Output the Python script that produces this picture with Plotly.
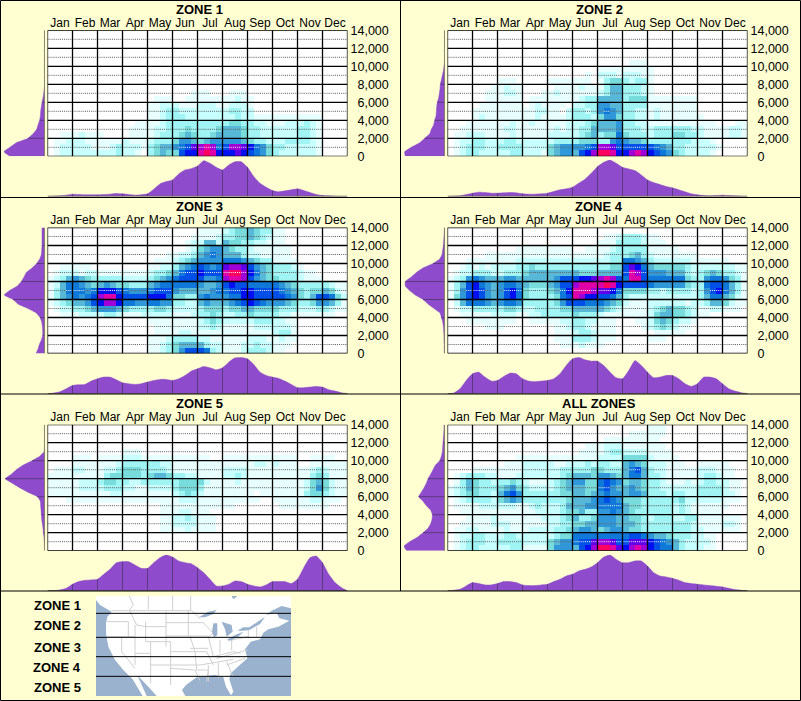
import plotly.graph_objects as go

W, H = 801, 701
BG = "#FFFFD2"
FONT = "Liberation Sans, Arial, sans-serif"
MONTHS = ["Jan","Feb","Mar","Apr","May","Jun","Jul","Aug","Sep","Oct","Nov","Dec"]
ALT_TICKS = [0,2000,4000,6000,8000,10000,12000,14000]
ALT_LABELS = ["\u20070","\u20072,000","\u20074,000","\u20076,000","\u20078,000","10,000","12,000","14,000"]
TITLES = ["ZONE 1","ZONE 2","ZONE 3","ZONE 4","ZONE 5","ALL ZONES"]
COLORS = ["#ffffff","#e8ffff","#c8ffff","#a0f4f4","#78dcdc","#58b8d8","#3098d8","#1078d8",
          "#0050e8","#0010f0","#6000e8","#a000d8","#e000a8","#ff0060"]

# heat levels, top row (14,000 ft) first, hex digit per half-fortnight cell, grouped by month
Z1 = ["","","","","","","","","","",
"0000 0000 0000 0000 0000 0001 1100 0111",
"0000 0000 0000 0000 0111 0011 1111 1121 1",
"0000 0000 0000 0000 1122 2111 2221 1222 1",
"0000 0000 0000 0000 1123 3222 2222 2332 2",
"0000 0000 0000 0000 1123 3322 2222 2232 2111 1111 1111",
"0000 0000 0000 0011 1123 3333 3333 3443 3221 1122 2321",
"0000 0000 0000 0111 1223 3343 3334 5554 3322 2222 3321",
"0011 1211 1000 0111 1233 3454 3345 5554 3322 2222 3321",
"0112 2211 1111 2111 2333 4665 4566 6665 4332 2233 3321",
"0122 2221 1123 2221 3455 678a bcb7 8bba 9764 3322 2221",
"0122 2222 2223 2210 3454 4899 cdc9 99a9 8764 3222 2221"]
Z2 = ["","","","","",
"0000 0000 0000 0000 0000 0000 0000 0111",
"0000 0000 0000 0000 0000 0000 1111 1111 1",
"0000 0000 0000 0000 0000 0010 2221 2221 1",
"0000 0000 1110 0000 1111 1110 1344 3233 1",
"0000 0001 1211 0000 0111 1211 1355 3332 1",
"0000 0011 1221 0001 1211 1111 2355 3332 1",
"0000 0011 1111 0111 1111 1233 5555 3444 1111 1111",
"0000 0111 1111 0121 1110 2233 6655 3333 1111 1111",
"0000 1111 1111 1122 1102 3323 6765 3322 1211 1111",
"0000 1211 1111 1121 1112 3332 4664 3322 1211 1111 1",
"0001 1111 1121 1211 1112 2234 5556 3322 1111 1111 1110 0011",
"0011 1111 1221 1111 1212 2335 5556 3332 2333 3332 2111 1221",
"0112 2211 1121 1111 2222 2345 3447 4333 2333 4433 2111 1221",
"0122 3322 2332 2222 2333 3444 3367 6554 3333 3332 2210",
"0123 3322 3333 2222 4566 6678 bba8 8888 8765 3322 2221",
"0123 3222 2233 2221 4566 589b ddc9 9bcb 9876 4322 2210"]
Z3 = [
"0000 0000 0000 0000 0000 0000 1111 2344 5433 1100",
"0000 0000 0000 0000 0000 0001 1112 3344 5432 1100",
"0000 0000 0000 0000 0000 0012 2552 5443 3221 1100",
"0000 0000 0000 0000 0000 0012 4566 5433 2111 1110",
"0000 0000 0000 0000 0001 1223 5676 5553 2211 1110",
"0000 0000 0000 0000 0111 2345 6666 7776 5433 1111",
"0011 1110 0000 0000 1122 3567 8767 abba 8654 3332 1",
"0122 2122 1111 1111 2334 5788 9888 cddb 9754 3333 2110",
"1235 6543 3333 2222 3456 7888 8667 bccb 8654 4333 2111",
"1257 7654 5654 4333 5677 7777 6556 8988 7777 7654 3333 3211",
"1357 7767 9998 7666 7888 6555 5567 7889 9888 8765 4344 5421",
"1356 7678 bcc9 8888 9997 4433 6766 6779 9888 8876 4358 8742",
"1234 5568 9bb9 7766 7766 3322 5655 5678 9876 6654 3346 6531",
"0122 3345 6665 4333 3443 2222 3444 3445 5444 4333 2223 3211",
"0011 1222 2332 1112 2222 1112 3343 2233 4333 3221 1111 1100",
"0000 0000 0000 0000 1111 1111 2343 2222 2333 2211",
"0000 0000 0000 0000 0111 1111 2232 1111 1222 2221",
"0000 0000 0000 0000 0111 1221 1111 1111 1111 2331",
"0000 0000 0000 0000 1112 3333 2211 1111 2221 1211",
"0000 0000 0000 0000 1123 4555 5322 1112 2322 1110",
"0000 0000 0000 0000 1123 4688 8732 1112 3332 1100"]
Z4 = ["",
"0000 0000 0000 0000 0000 0000 0112 3332 1100",
"0000 0000 0000 0000 0000 0000 1113 3332 1110",
"0000 0000 0001 1111 1111 0011 1123 3333 1111 1000",
"0000 0011 1111 1111 1111 1111 1233 3453 2111 1111",
"0001 1111 1112 2222 2222 2222 2233 7765 3222 2221 1111 1",
"0012 1212 2223 3433 3333 3333 3344 8a97 5444 4432 2222 2211",
"0122 3332 2333 4555 5555 5444 5555 8cb8 6665 5532 3454 3321",
"1236 7655 5665 5555 5688 899a bcb8 7cc8 7777 7743 3677 6431",
"1358 9765 6776 5444 5688 bccc cdc9 8888 7666 6643 3788 7531",
"1368 9865 6897 4333 4579 cccb aa97 4444 3323 3332 3689 7531",
"1468 9865 6897 4333 3478 cb99 8875 3222 2222 2222 3577 5421",
"0257 7765 6776 3333 3468 8877 7654 2111 2222 2212 2355 4211",
"0122 3333 3443 2233 3344 5555 5432 1111 2345 4432 1122 1110",
"0011 1112 2221 1223 3333 4333 2111 1111 2455 4432 1100",
"0001 1111 1110 0111 1122 3322 1110 0011 2454 3221",
"0000 0011 1000 0000 0112 3321 1110 0001 2343 2110",
"0000 0000 0000 0000 0111 2332 1110 0000 0111 1100",
"0000 0000 0000 0000 0111 3332 1110 0000 1110",
"0000 0000 0000 0000 0011 1211 1000",
""]
Z5 = ["","","","",
"0000 0000 0000 1110",
"0000 1110 1111 2221 1111 1111 1100 1111 1111 1111 0011 1100",
"0000 1111 1112 3333 3322 1111 1111 1111 1221 2111 0011 1111",
"0111 2211 1223 4443 3332 1111 1111 2222 1111 1111 1123 2111",
"1111 1111 1344 4443 4554 3322 1111 2232 1111 1111 1134 3111",
"1111 1222 3443 3223 3333 3444 4211 1121 1111 1111 1245 4211",
"1111 1222 2333 2211 2222 3444 3111 1111 1111 1111 1246 4211",
"1111 1111 1122 1111 1111 2343 2111 1111 1011 1111 1344 3211",
"0001 1111 1111 1111 1111 1222 1111 1111 1100 1111 1122 1110",
"0000 0000 0000 0000 0011 1111 1111 1100 0000 0111 1111 1000",
"0000 0000 0000 0000 0011 1221 1100",
"0000 0000 0000 0000 0011 2232 1110",
"0000 0000 0000 0000 0011 2222 1110",
"0000 0000 0000 0000 0011 1121 1110",
"","",""]
Z6 = [
"0000 0000 0000 0000 0000 0000 0000 0000 1110",
"0000 0000 0000 0000 0000 0000 0000 0111 1110",
"0000 0000 0000 0000 0000 0000 0111 1111 1100",
"0000 0000 0000 0000 0000 0011 1222 1111 1110",
"0000 0000 0000 0000 0000 0111 1233 2222 1111",
"0000 0000 0001 1111 1111 1111 2222 4444 2111 1000",
"0000 0000 0111 2222 2112 2232 3322 5654 2221 1100 1111 1",
"0000 1111 1111 2222 2233 3334 4333 5785 3221 1111 2221 1100",
"0123 3322 1112 2222 2234 5554 6654 5775 3321 1111 2332 1100",
"0135 4332 3343 2111 2345 6644 7876 4554 3321 1121 2332 2110",
"1235 4333 4564 3222 2345 5544 7865 5654 3322 2222 3333 2110",
"1234 4332 5786 3333 3344 5545 6766 5665 3332 3322 3333 2210",
"0123 3332 4565 3333 3334 5556 7876 4443 3333 3422 2222 1110",
"0111 1222 2221 1232 2235 5566 7777 5443 3333 2321 1111 1000",
"0011 1111 1111 1122 2234 4533 6676 5433 3333 2321 1111",
"0001 1112 1111 1112 2234 5334 6665 5443 2333 2233 1111 1110",
"0011 1112 2211 1111 2233 4455 6665 5543 3333 3332 1111 2210",
"0112 2111 1211 1222 2334 5665 4566 5443 3333 3332 2111 1110",
"0122 3322 2332 2222 2344 7777 7777 7887 6554 3332 2110",
"0123 3322 3333 2222 4566 788a bba8 8aaa 9876 5322 2210",
"0123 3222 2233 1111 4666 589b ddca 9bcb 9877 5322 2110"]

# bottom profile, one value per quarter month (Jan start to Dec end)
M1 = [0,1,2,4,7,6,5,5,5,6,7,9,8,6,4,5,8,22,38,45,50,68,80,84,92,108,100,88,80,95,105,105,88,60,40,28,18,14,17,20,23,18,12,6,3,2,1,0,0]
M2 = [0,1,2,6,10,13,12,10,10,11,12,11,8,7,7,8,10,15,20,23,28,40,52,70,90,103,110,100,88,83,78,65,50,42,36,30,26,20,14,8,5,3,2,3,4,3,2,1,0]
M3 = [0,2,6,15,25,27,28,38,45,50,50,42,33,30,28,30,35,40,43,43,40,45,55,68,75,82,78,72,78,95,108,110,105,88,65,55,50,46,38,28,18,18,20,22,20,12,8,3,0]
M4 = [0,2,15,40,60,65,50,38,40,52,62,60,45,38,36,38,40,45,60,85,105,110,102,98,98,85,65,48,45,70,100,85,65,48,50,55,55,45,30,22,30,50,50,45,30,15,8,3,0]
M5 = [0,1,3,8,20,28,32,33,35,50,65,85,88,88,78,68,68,85,100,108,102,90,85,82,70,55,35,15,15,20,30,28,20,15,12,18,28,28,28,22,35,70,100,105,85,50,25,10,0]
M6 = [0,2,5,15,25,22,18,18,22,28,28,25,18,16,16,18,20,28,35,45,50,60,65,72,85,102,108,95,85,85,90,90,75,55,45,42,38,32,25,22,20,18,16,14,12,8,4,2,0]
# left profile, one value per 500 ft (0 to 14,000)
A1 = [104,122,104,85,50,35,24,20,15,13,12,10,8,5,3,1,0,0,0,0,0,0,0,0,0,0,0,0,0]
A2 = [118,120,100,75,60,45,40,33,30,26,25,24,22,18,16,14,13,10,7,4,2,0,0,0,0,0,0,0,0]
A3 = [26,20,16,10,6,6,7,9,14,25,50,80,95,121,105,82,70,62,55,38,24,15,10,9,8,8,8,8,8]
A4 = [1,1,1,2,2,3,4,6,10,14,32,50,65,88,105,118,118,100,85,65,35,15,8,6,4,3,2,1,1]
A5 = [0,0,1,2,4,5,7,9,10,11,12,13,22,50,75,97,118,100,85,65,38,15,2,0,0,0,0,0,0]
A6 = [114,122,105,82,65,50,42,38,37,42,55,65,78,70,62,55,50,42,35,28,15,10,7,6,5,4,3,2,2]

GRIDS = [Z1,Z2,Z3,Z4,Z5,Z6]
BOTTOM = [M1,M2,M3,M4,M5,M6]
LEFT = [A1,A2,A3,A4,A5,A6]

# locator map, in picture-crop units (288..873 across, 18..318 down)
LAND = [(288,18),(695,18),(700,28),(712,18),(873,18),(873,55),(845,48),(815,62),(798,75),(830,68),(838,85),(868,92),(835,110),(805,118),(790,128),(780,148),(752,155),(735,178),(742,205),(715,228),(692,250),(688,268),(700,305),(693,316),(678,290),(670,262),(645,255),(620,258),(590,262),(558,285),(546,300),(556,318),(470,318),(445,290),(412,256),(440,318),(428,318),(398,268),(370,240),(345,210),(325,170),(318,130),(318,100),(322,80),(335,65),(300,45),(288,30)]
LAKES = [[(597,82),(625,65),(650,60),(640,72),(615,82)],[(640,100),(652,100),(652,135),(642,142),(636,125)],[(665,95),(695,105),(698,125),(680,140),(675,118)],[(680,150),(705,135),(730,125),(715,140),(690,152)],[(712,122),(730,112),(748,112),(775,95),(795,80),(780,102),(748,120),(730,122)]]
STATE_LINES = [[(445,18),(445,58)],[(518,18),(518,62)],[(572,18),(572,62)],[(388,18),(400,45),(388,60)],[(335,62),(575,62),(600,85)],
[(320,95),(385,95)],[(388,60),(410,105),(437,110)],[(385,95),(385,140)],[(437,110),(498,110)],[(437,95),(437,155)],[(498,65),(498,170)],[(498,98),(565,98)],[(498,138),(570,138)],[(437,155),(512,155)],[(512,185),(585,185)],
[(320,140),(405,140)],[(365,140),(365,185),(405,235)],[(405,105),(405,225)],[(405,190),(452,190)],[(452,155),(452,280)],[(512,155),(512,285)],[(452,225),(600,225)],[(512,235),(585,240),(600,272)],[(565,62),(565,138)],[(570,138),(585,185),(590,240)],
[(570,138),(625,138)],[(570,175),(625,175)],[(565,98),(610,98)],[(610,98),(640,130),(625,140)],[(625,140),(640,200)],[(585,185),(620,185),(640,225)],[(590,240),(625,240),(620,275)],[(625,225),(625,275)],[(655,218),(655,265)],[(680,215),(700,262)],[(600,225),(700,208)],[(640,200),(700,185),(722,190)],[(650,205),(742,180)],[(660,150),(660,190)],[(695,145),(695,180)],[(695,150),(745,140)],[(745,115),(745,145)],[(770,110),(770,140)],[(680,225),(735,205)]]
ZONE_LINES = [70,142,200,259]
LEGEND = [("ZONE 1",605),("ZONE 2",625),("ZONE 3",647),("ZONE 4",667),("ZONE 5",687)]

px = lambda x: x / W
py = lambda y: 1 - y / H

fig = go.Figure()
layout = dict(width=W, height=H, margin=dict(l=0,r=0,t=0,b=0,autoexpand=False), paper_bgcolor=BG, plot_bgcolor="rgba(0,0,0,0)",
              showlegend=False, font=dict(family=FONT, size=12, color="#000"), hovermode=False)
shapes, annotations = [], []
FILL, TICK, BASE = "#8E4BCB", "#5B3A80", "#6E6E50"
axis_n = 0
def new_axes(xkw, ykw):
    global axis_n
    axis_n += 1
    s = "" if axis_n == 1 else str(axis_n)
    layout["xaxis"+s] = dict(anchor="y"+s, **xkw)
    layout["yaxis"+s] = dict(anchor="x"+s, **ykw)
    return "x"+s, "y"+s
HIDE = dict(showgrid=False, zeroline=False, showticklabels=False, ticks="", showline=False, fixedrange=True)

for k in range(6):
    col, row = k % 2, k // 2
    ox, oy = col * 400, row * 197.2
    L, R, T, B = 47.5+ox, 347.5+ox, 30.3+oy, 156.3+oy
    rows = [r.replace(" ","").ljust(48,"0") for r in GRIDS[k]][::-1]
    z = [[int(c,16) for c in r] for r in rows]
    n = len(COLORS) - 1
    cs = [[i/n, c] for i,c in enumerate(COLORS)]
    xa, ya = new_axes(
        dict(domain=[px(L),px(R)], range=[0,12], side="top", tickmode="array", tickvals=[i+0.5 for i in range(12)], ticktext=MONTHS,
             ticks="", showgrid=False, zeroline=False, showline=False, tickfont=dict(size=12,color="#000"), fixedrange=True, ticklabelstandoff=0),
        dict(domain=[py(B),py(T)], range=[0,14000], side="right", tickmode="array", tickvals=ALT_TICKS, ticktext=ALT_LABELS,
             ticks="", showgrid=False, zeroline=False, showline=False, tickfont=dict(size=12.5,color="#000"), fixedrange=True, ticklabelstandoff=2))
    fig.add_trace(go.Heatmap(z=z, x0=0.125, dx=0.25, y0=1000/3, dy=2000/3, zmin=0, zmax=n, colorscale=cs, showscale=False,
                             hoverinfo="skip", xaxis=xa, yaxis=ya))
    # dotted odd-thousand lines: dark on pale cells, white on dark cells
    for ri in range(1,21,3):
        alt = 1000/3 + ri*2000/3
        for dark, colr in ((False,"#666666"),(True,"#e8e8e8")):
            xs, ys = [], []
            for c in range(48):
                if (z[ri][c] >= 7) == dark:
                    xs += [c/4,(c+1)/4,None]; ys += [alt,alt,None]
            if xs:
                fig.add_trace(go.Scatter(x=xs,y=ys,mode="lines",line=dict(color=colr,width=1,dash="1px,1px"),hoverinfo="skip",connectgaps=False,xaxis=xa,yaxis=ya))
    xs, ys = [], []
    for m in range(13):
        xs += [m,m,None]; ys += [0,14000,None]
    for t in ALT_TICKS:
        xs += [0,12,None]; ys += [t,t,None]
    fig.add_trace(go.Scatter(x=xs,y=ys,mode="lines",line=dict(color="#000",width=1.3),hoverinfo="skip",cliponaxis=False,xaxis=xa,yaxis=ya))

    # bottom profile
    xb, yb = new_axes(dict(domain=[px(L),px(R)], range=[0,12], **HIDE), dict(domain=[py(196.5+oy),py(160+oy)], range=[0,110], **HIDE))
    vals = BOTTOM[k]
    fig.add_trace(go.Scatter(x=[i/4 for i in range(49)], y=vals, mode="lines", fill="tozeroy", fillcolor=FILL,
                             line=dict(color=FILL,width=0.5,shape="spline",smoothing=0.5), hoverinfo="skip", xaxis=xb, yaxis=yb))
    xs, ys = [], []
    for m in range(1,12):
        xs += [m,m,None]; ys += [0,vals[m*4],None]
    fig.add_trace(go.Scatter(x=xs,y=ys,mode="lines",line=dict(color=TICK,width=1),hoverinfo="skip",xaxis=xb,yaxis=yb))
    fig.add_trace(go.Scatter(x=[0,12],y=[0,0],mode="lines",line=dict(color=BASE,width=1.5),hoverinfo="skip",cliponaxis=False,xaxis=xb,yaxis=yb))

    # left profile
    xl, yl = new_axes(dict(domain=[px(4+ox),px(44.7+ox)], range=[122,0], **HIDE), dict(domain=[py(B),py(T)], range=[0,14000], **HIDE))
    vals = LEFT[k]
    alts = [i*500 for i in range(29)]
    fig.add_trace(go.Scatter(x=vals, y=alts, mode="lines", fill="tozerox", fillcolor=FILL,
                             line=dict(color=FILL,width=0.5,shape="spline",smoothing=0.5), hoverinfo="skip", xaxis=xl, yaxis=yl))
    xs, ys = [], []
    for t in ALT_TICKS[1:-1]:
        xs += [0,vals[t//500],None]; ys += [t,t,None]
    fig.add_trace(go.Scatter(x=xs,y=ys,mode="lines",line=dict(color=TICK,width=1),hoverinfo="skip",xaxis=xl,yaxis=yl))
    fig.add_trace(go.Scatter(x=[0,0],y=[0,14000],mode="lines",line=dict(color=BASE,width=1.5),hoverinfo="skip",cliponaxis=False,xaxis=xl,yaxis=yl))

    annotations.append(dict(text="<b>%s</b>"%TITLES[k], x=px(199+ox), y=py(9.5+oy), xref="paper", yref="paper", showarrow=False,
                            xanchor="center", yanchor="middle", font=dict(size=13,color="#000")))

# panel rules
for y0 in (197.5, 394, 591):
    shapes.append(dict(type="line", xref="paper", yref="paper", x0=0, x1=1, y0=py(y0), y1=py(y0), line=dict(color="#000",width=1)))
shapes.append(dict(type="line", xref="paper", yref="paper", x0=px(400.5), x1=px(400.5), y0=py(0), y1=py(591), line=dict(color="#000",width=1)))
shapes.append(dict(type="rect", xref="paper", yref="paper", x0=px(0.5), x1=px(800.5), y0=py(0.5), y1=py(700.5), line=dict(color="#000",width=1)))

# locator map
xm, ym = new_axes(dict(domain=[px(96),px(291)], range=[288,873], **HIDE), dict(domain=[py(696),py(596)], range=[318,18], **HIDE))
fig.add_trace(go.Scatter(x=[288,873,873,288,288], y=[18,18,318,318,18], mode="lines", fill="toself", fillcolor="#9AB2CE",
                         line=dict(width=0), hoverinfo="skip", xaxis=xm, yaxis=ym))
fig.add_trace(go.Scatter(x=[p[0] for p in LAND]+[LAND[0][0]], y=[p[1] for p in LAND]+[LAND[0][1]], mode="lines", fill="toself", fillcolor="#ffffff",
                         line=dict(width=0), hoverinfo="skip", xaxis=xm, yaxis=ym))
xs, ys = [], []
for ln in STATE_LINES:
    xs += [p[0] for p in ln]+[None]; ys += [p[1] for p in ln]+[None]
fig.add_trace(go.Scatter(x=xs,y=ys,mode="lines",line=dict(color="#D0D0D0",width=1),hoverinfo="skip",xaxis=xm,yaxis=ym))
for lk in LAKES:
    fig.add_trace(go.Scatter(x=[p[0] for p in lk]+[lk[0][0]], y=[p[1] for p in lk]+[lk[0][1]], mode="lines", fill="toself", fillcolor="#9AB2CE",
                             line=dict(width=0), hoverinfo="skip", xaxis=xm, yaxis=ym))
xs, ys = [], []
for y in ZONE_LINES:
    xs += [288,873,None]; ys += [y,y,None]
fig.add_trace(go.Scatter(x=xs,y=ys,mode="lines",line=dict(color="#000",width=1),hoverinfo="skip",xaxis=xm,yaxis=ym))
for label, y in LEGEND:
    annotations.append(dict(text="<b>%s</b>"%label, x=px(83), y=py(y), xref="paper", yref="paper", showarrow=False,
                            xanchor="right", yanchor="middle", font=dict(size=13,color="#000")))

layout["shapes"] = shapes
layout["annotations"] = annotations
fig.update_layout(**layout)
fig.write_html("out.html", config=dict(displayModeBar=False, staticPlot=True),
               post_script="document.body.style.margin='0';document.documentElement.style.overflow='hidden';")
